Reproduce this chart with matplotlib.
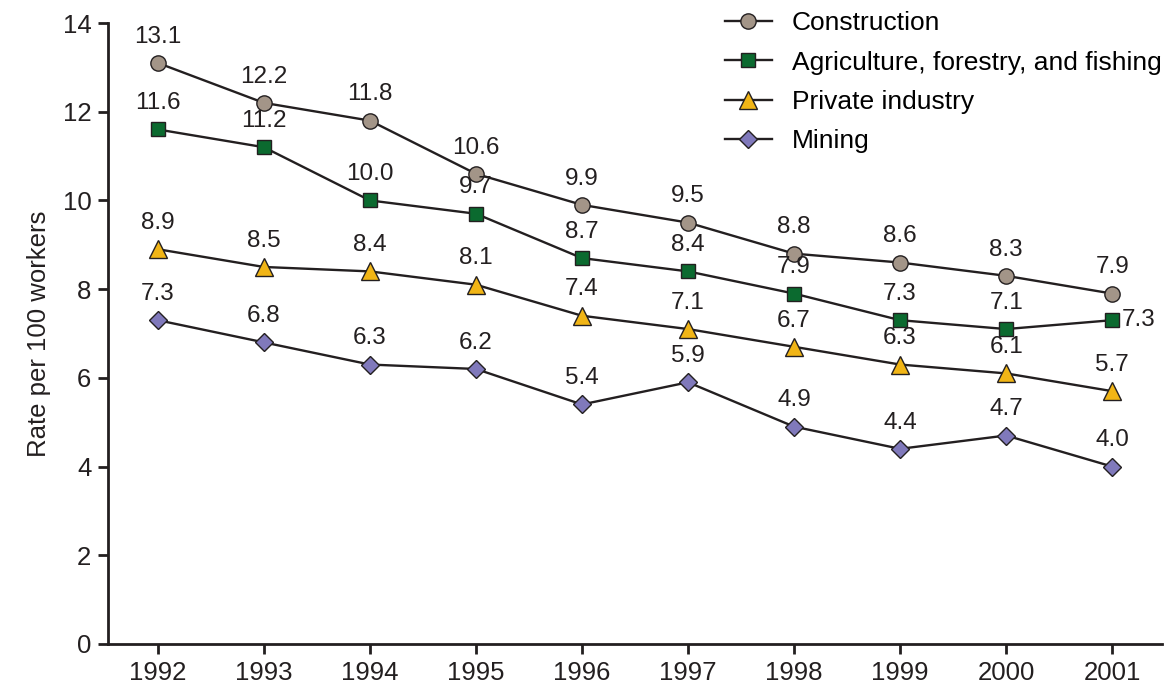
import matplotlib.pyplot as plt

plt.rcParams['font.family'] = ['Liberation Sans', 'DejaVu Sans']

# Datos
anios = [1992, 1993, 1994, 1995, 1996, 1997, 1998, 1999, 2000, 2001]
construccion = [13.1, 12.2, 11.8, 10.6, 9.9, 9.5, 8.8, 8.6, 8.3, 7.9]
agricultura = [11.6, 11.2, 10.0, 9.7, 8.7, 8.4, 7.9, 7.3, 7.1, 7.3]
privada = [8.9, 8.5, 8.4, 8.1, 7.4, 7.1, 6.7, 6.3, 6.1, 5.7]
mineria = [7.3, 6.8, 6.3, 6.2, 5.4, 5.9, 4.9, 4.4, 4.7, 4.0]

series = [
    ("Construction", construccion, 'o', '#a39588', 11),
    ("Agriculture, forestry, and fishing", agricultura, 's', '#0b6a2f', 9.5),
    ("Private industry", privada, '^', '#f1b516', 12.5),
    ("Mining", mineria, 'D', '#8079bb', 9),
]

fig = plt.figure(figsize=(11.66, 6.85), dpi=100)
ax = fig.add_axes([0.0926, 0.0599, 0.904, 0.9065])

for nombre, valores, marcador, color, ms in series:
    ax.plot(anios, valores, color='#231f20', lw=1.7, marker=marcador,
            markerfacecolor=color, markeredgecolor='#231f20',
            markeredgewidth=1.0, markersize=ms, label=nombre)
    for x, y in zip(anios, valores):
        if nombre.startswith("Agriculture") and x == 2001:
            ax.annotate(f"{y:.1f}", (x, y), xytext=(7, 0), textcoords='offset points',
                        ha='left', va='center', fontsize=17.5, color='#231f20')
        else:
            ax.annotate(f"{y:.1f}", (x, y), xytext=(0, 11), textcoords='offset points',
                        ha='center', va='bottom', fontsize=17.5, color='#231f20')

ax.set_xlim(1991.53, 2001.47)
ax.set_ylim(0, 14)
ax.set_xticks(anios)
ax.set_yticks(range(0, 15, 2))
ax.set_ylabel("Rate per 100 workers", fontsize=18.5, color='#231f20', labelpad=8)

for lado in ['top', 'right']:
    ax.spines[lado].set_visible(False)
for lado in ['left', 'bottom']:
    ax.spines[lado].set_linewidth(2)
    ax.spines[lado].set_color('#231f20')
ax.tick_params(direction='out', length=7, width=2, labelsize=18.5,
               colors='#231f20', pad=5)

ax.legend(loc='upper left', bbox_to_anchor=(0.575, 1.036), frameon=False,
          fontsize=19, handlelength=1.8, handletextpad=0.75, labelspacing=0.58,
          borderaxespad=0)

fig.savefig("out.png", dpi=100)
